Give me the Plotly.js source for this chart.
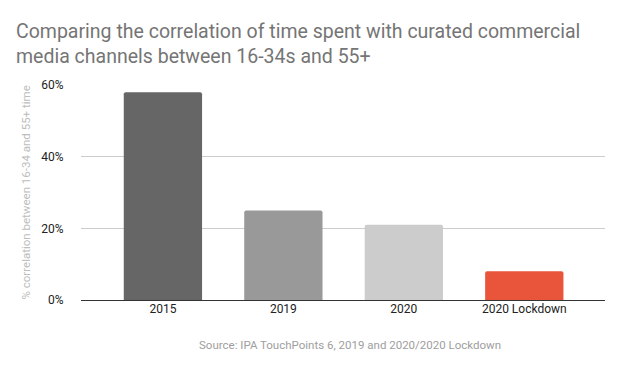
<!DOCTYPE html>
<html><head><meta charset="utf-8">
<script src="https://cdn.plot.ly/plotly-3.0.1.min.js"></script>
<style>html,body{margin:0;padding:0;background:#fff}#c{width:640px;height:371px}</style>
</head><body><div id="c"></div>
<script>
const categories = ["2015", "2019", "2020", "2020 Lockdown"];
const values = [58, 25, 21, 8];
const barColors = ["#666666", "#999999", "#cccccc", "#e9553b"];
const yTickVals = [0, 20, 40, 60];
const yTickText = ["0%", "20%", "40%", "60%"];
const yTitle = "% correlation between 16-34 and 55+ time";
const sourceNote = "Source: IPA TouchPoints 6, 2019 and 2020/2020 Lockdown";

const trace = {
  type: "bar", x: categories, y: values,
  marker: {color: barColors, cornerradius: 2, line: {width: 0}},
  width: 0.65, hoverinfo: "none"
};
const layout = {
  width: 640, height: 371,
  margin: {l: 81, r: 35, t: 85, b: 71},
  paper_bgcolor: "#fff", plot_bgcolor: "#fff",
  font: {family: "Roboto, Arial, sans-serif", size: 11, color: "#222"},
  title: {text: "Comparing the correlation of time spent with curated commercial<br>media channels between 16-34s and 55+",
    x: 16/640, xanchor: "left", xref: "container", y: 1 - 38/371, yanchor: "top", yref: "container",
    font: {size: 19.5, color: "#757575", family: "Roboto, Arial, sans-serif"}},
  xaxis: {type: "category", range: [-0.68, 3.67], showgrid: false, ticks: "",
    tickfont: {size: 12, color: "#222"}, showline: false, zeroline: false},
  yaxis: {range: [0, 60], tickvals: yTickVals, ticktext: yTickText, showgrid: true,
    gridcolor: "#cccccc", gridwidth: 1, zeroline: true, zerolinecolor: "#333", zerolinewidth: 1,
    tickfont: {size: 12, color: "#222"}, ticks: "outside", ticklen: 14, tickcolor: "rgba(0,0,0,0)"},
  annotations: [
    {text: yTitle, textangle: -90, xref: "paper", yref: "paper", x: (25-81)/524, y: 0.5,
      xanchor: "center", yanchor: "middle", showarrow: false, font: {size: 11.5, color: "#bdbdbd"}},
    {text: sourceNote, xref: "paper", yref: "paper", x: (350-81)/524, y: -0.21,
      xanchor: "center", yanchor: "middle", showarrow: false, font: {size: 11.5, color: "#9e9e9e"}}],
  showlegend: false
};
Plotly.newPlot("c", [trace], layout, {displayModeBar: false, staticPlot: true});
</script></body></html>
